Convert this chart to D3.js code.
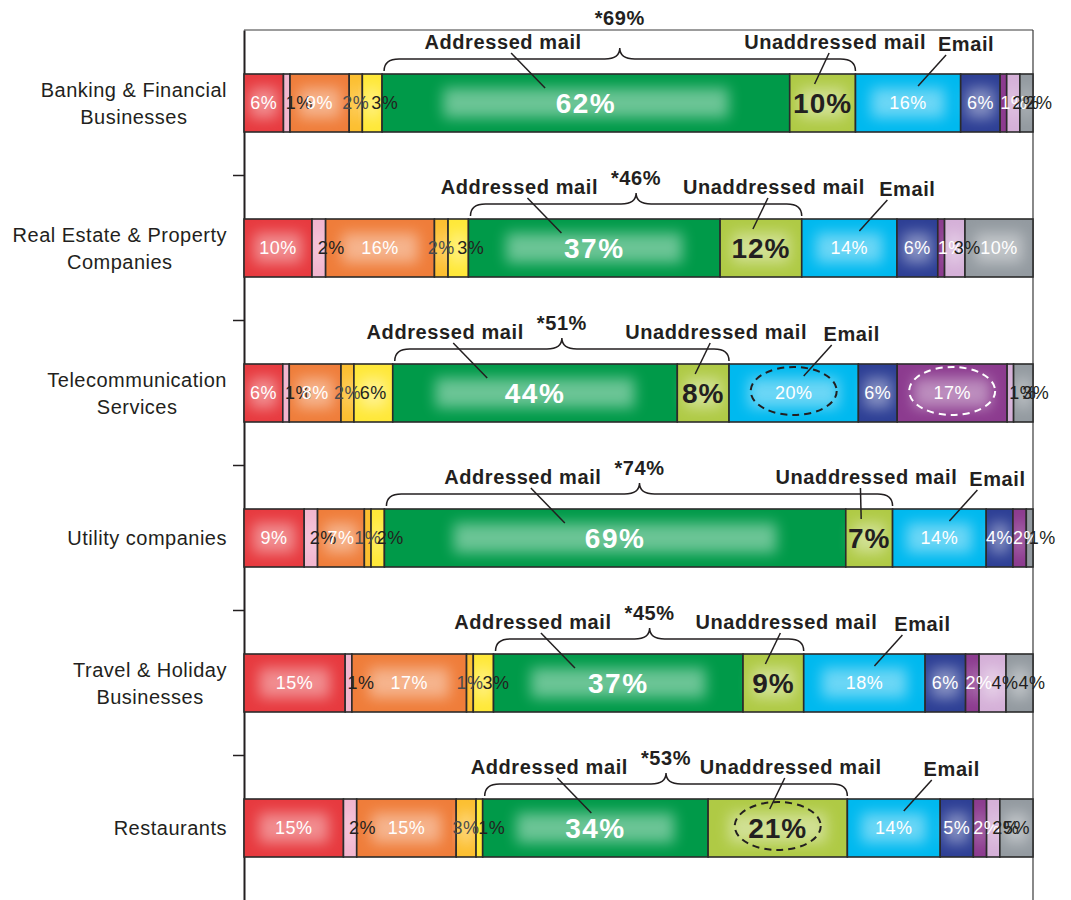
<!DOCTYPE html>
<html>
<head>
<meta charset="utf-8">
<script src="https://cdn.jsdelivr.net/npm/d3@7"></script>
<style>
  body { margin: 0; background: #fff; }
  svg { display: block; font-family: "Liberation Sans", Arial, Helvetica, sans-serif; }
</style>
</head>
<body>
<div id="container"></div>
<script>
// rows, top to bottom
var categories = [
  "Banking & Financial\nBusinesses",
  "Real Estate & Property\nCompanies",
  "Telecommunication\nServices",
  "Utility companies",
  "Travel & Holiday\nBusinesses",
  "Restaurants"
];

var seriesNames = ["Red", "Pink", "Orange", "Gold", "Yellow", "Addressed mail",
                   "Unaddressed mail", "Email", "Navy", "Purple", "Lilac", "Grey"];

// values (%) per series, one entry per row
var red         = [6, 10, 6, 9, 15, 15];
var pink        = [1, 2, 1, 2, 1, 2];
var orange      = [9, 16, 8, 7, 17, 15];
var gold        = [2, 2, 2, 1, 1, 3];
var yellow      = [3, 3, 6, 2, 3, 1];
var addressed   = [62, 37, 44, 69, 37, 34];
var unaddressed = [10, 12, 8, 7, 9, 21];
var email       = [16, 14, 20, 14, 18, 14];
var navy        = [6, 6, 6, 4, 6, 5];
var purple      = [1, 1, 17, 2, 2, 2];
var lilac       = [2, 3, 1, 0, 4, 2];
var grey        = [2, 10, 3, 1, 4, 5];

// "*xx%" above the mail brace
var starTotals = [69, 46, 51, 74, 45, 53];

// cells circled with a dashed ellipse: [row, series, dark?]
var circled = [[2, "Email", true], [2, "Purple", false], [5, "Unaddressed mail", true]];

var seriesValues = [red, pink, orange, gold, yellow, addressed, unaddressed, email, navy, purple, lilac, grey];
var colors = ["#e73a3f", "#f2b6cf", "#ef7d3a", "#fcbf30", "#ffe838", "#009a49",
              "#afca45", "#00b9ef", "#2d3f95", "#8c3b8f", "#d5b0d8", "#939aa0"];
var dark = "#231f20";

var margin = {top: 30, right: 38, bottom: 0, left: 244},
    totalWidth = 1071,
    totalHeight = 900,
    width = totalWidth - margin.left - margin.right,
    height = totalHeight - margin.top - margin.bottom;

var rows = categories.map(function(c, i) {
  var r = {category: c};
  seriesNames.forEach(function(s, j) { r[s] = seriesValues[j][i]; });
  return r;
});

var stacked = d3.stack().keys(seriesNames).offset(d3.stackOffsetExpand)(rows);

var xScale = d3.scaleLinear().domain([0, 1]).range([0, width]);
var yScale = d3.scaleBand().domain(categories).range([0, height]).padding(0);
var barOffset = 44, barHeight = 58;

var svg = d3.select("#container").append("svg")
    .attr("width", totalWidth)
    .attr("height", totalHeight);

var defs = svg.append("defs");
defs.append("filter").attr("id", "glow")
    .attr("x", "-50%").attr("y", "-50%").attr("width", "200%").attr("height", "200%")
  .append("feGaussianBlur").attr("stdDeviation", 7);

var g = svg.append("g")
    .attr("transform", "translate(" + margin.left + "," + margin.top + ")");

// frame: top and right edges
g.append("line").attr("x1", 0).attr("x2", width).attr("y1", 0).attr("y2", 0)
    .attr("stroke", "#3a3a3a").attr("stroke-width", 1.2);
g.append("line").attr("x1", width).attr("x2", width).attr("y1", 0).attr("y2", height)
    .attr("stroke", "#3a3a3a").attr("stroke-width", 1.2);

// left axis, ticks between rows
var yLin = d3.scaleLinear().domain([0, categories.length]).range([0, height]);
var yAxis = d3.axisLeft(yLin)
    .tickValues(d3.range(1, categories.length))
    .tickFormat("")
    .tickSize(11)
    .tickSizeOuter(0);
var axisG = g.append("g").attr("class", "y-axis").call(yAxis);
axisG.select(".domain").attr("stroke", "#231f20").attr("stroke-width", 2);
axisG.selectAll(".tick line").attr("stroke", "#231f20").attr("stroke-width", 1.5);

// category labels
categories.forEach(function(c) {
  var lines = c.split("\n");
  var cy = yScale(c) + barOffset + barHeight / 2;
  var t = g.append("text")
      .attr("font-size", 20)
      .attr("letter-spacing", 0.5)
      .attr("fill", dark)
      .attr("text-anchor", "middle");
  lines.forEach(function(l, k) {
    t.append("tspan")
        .attr("x", 0)
        .attr("y", cy + (k - (lines.length - 1) / 2) * 27)
        .attr("dy", "0.35em")
        .text(l);
  });
  var w = d3.max(t.selectAll("tspan").nodes(), function(n) { return n.getComputedTextLength(); });
  t.selectAll("tspan").attr("x", -17 - w / 2);
});

// bars
var layers = g.append("g").attr("class", "bars")
  .selectAll(".layer")
  .data(stacked).enter()
  .append("g").attr("class", "layer");

layers.each(function(layer, j) {
  var sel = d3.select(this);
  var segs = sel.selectAll("g.seg")
      .data(layer.filter(function(d) { return d[1] - d[0] > 0; }))
      .enter().append("g").attr("class", "seg");
  segs.append("rect")
      .attr("x", function(d) { return xScale(d[0]); })
      .attr("y", function(d) { return yScale(d.data.category) + barOffset; })
      .attr("width", function(d) { return xScale(d[1]) - xScale(d[0]); })
      .attr("height", barHeight)
      .attr("fill", colors[j]);
  segs.each(function(d) {
    var w = xScale(d[1]) - xScale(d[0]);
    var dx = Math.max(3, Math.min(w * 0.15, 80));
    if (w - 2 * dx < 3) return;
    d3.select(this).append("rect")
        .attr("x", xScale(d[0]) + dx)
        .attr("y", yScale(d.data.category) + barOffset + 14)
        .attr("width", w - 2 * dx)
        .attr("height", barHeight - 28)
        .attr("fill", "#fff")
        .attr("opacity", 0.42)
        .attr("filter", "url(#glow)");
  });
  segs.append("rect")
      .attr("x", function(d) { return xScale(d[0]); })
      .attr("y", function(d) { return yScale(d.data.category) + barOffset; })
      .attr("width", function(d) { return xScale(d[1]) - xScale(d[0]); })
      .attr("height", barHeight)
      .attr("fill", "none")
      .attr("stroke", "#2b2b2b")
      .attr("stroke-width", 1.6);
});

// dashed ellipses
circled.forEach(function(cc) {
  var j = seriesNames.indexOf(cc[1]);
  var d = stacked[j][cc[0]];
  g.append("ellipse")
      .attr("cx", (xScale(d[0]) + xScale(d[1])) / 2)
      .attr("cy", yScale(d.data.category) + barOffset + barHeight / 2 - 2)
      .attr("rx", 43).attr("ry", 24)
      .attr("fill", "none")
      .attr("stroke", cc[2] ? dark : "#fff")
      .attr("stroke-width", 2)
      .attr("stroke-dasharray", "7,5");
});

// segment value labels
var labelFill = ["#fff", dark, "#fff", "#4d4d4d", dark, "#fff", dark, "#fff", "#fff", "#fff", dark, null];
// how a label sits when it is wider than its segment
var narrowAnchor = {"Pink": "center", "Yellow": "center", "Lilac": "center", "Grey": "center", "Purple": "x0"};
stacked.forEach(function(layer, j) {
  var big = (j === 5 || j === 6);
  var texts = g.append("g").selectAll("text")
    .data(layer.filter(function(d) { return d[1] - d[0] > 0; }))
    .enter().append("text")
      .attr("x", function(d) { return (xScale(d[0]) + xScale(d[1])) / 2; })
      .attr("y", function(d) { return yScale(d.data.category) + barOffset + barHeight / 2; })
      .attr("dy", "0.36em")
      .attr("text-anchor", "middle")
      .attr("font-size", big ? 28 : 18)
      .attr("font-weight", big ? "bold" : "normal")
      .attr("letter-spacing", j === 5 ? 1.5 : (big ? 1 : 0.5))
      .attr("fill", function(d) {
        if (labelFill[j]) return labelFill[j];
        return d.data[layer.key] >= 10 ? "#fff" : dark;
      })
      .text(function(d) { return d.data[layer.key] + "%"; });
  var mode = narrowAnchor[layer.key];
  if (mode) {
    texts.each(function(d) {
      var w = xScale(d[1]) - xScale(d[0]);
      if (this.getComputedTextLength() <= w - 4) return;
      d3.select(this).attr("text-anchor", "start")
          .attr("x", mode === "x0" ? xScale(d[0]) : (xScale(d[0]) + xScale(d[1])) / 2 - 1);
    });
  }
});

// annotations: brace over addressed + unaddressed mail, labels and leader lines
var annot = g.append("g").attr("class", "annotations")
    .attr("fill", "none").attr("stroke", dark).attr("stroke-width", 1.5);
var iA = seriesNames.indexOf("Addressed mail"),
    iU = seriesNames.indexOf("Unaddressed mail"),
    iE = seriesNames.indexOf("Email");

function addLabel(txt, x, y, anchor) {
  return g.append("text")
      .attr("x", x).attr("y", y)
      .attr("text-anchor", anchor)
      .attr("font-size", 20)
      .attr("font-weight", "bold")
      .attr("letter-spacing", 0.6)
      .attr("fill", dark)
      .text(txt);
}

categories.forEach(function(c, i) {
  var top = yScale(c) + barOffset;
  var a = stacked[iA][i], u = stacked[iU][i], e = stacked[iE][i];
  var x0 = xScale(a[0]) + 2, x1 = xScale(u[1]);
  var xc = (x0 + x1) / 2;
  var yb = top - 3, ym = top - 15, ya = top - 26, r = 15;

  annot.append("path")
      .attr("d", "M" + x0 + "," + yb +
                 " Q" + x0 + "," + ym + " " + (x0 + r) + "," + ym +
                 " L" + (xc - r) + "," + ym +
                 " Q" + xc + "," + ym + " " + xc + "," + ya +
                 " Q" + xc + "," + ym + " " + (xc + r) + "," + ym +
                 " L" + (x1 - r) + "," + ym +
                 " Q" + x1 + "," + ym + " " + x1 + "," + yb);

  var sy = top - 34;
  if (sy - 15 < 0) sy = -5;
  addLabel("*" + starTotals[i] + "%", xc, sy, "middle");

  var ly = top - 25;
  var ta = addLabel("Addressed mail", xc - 38, ly, "end");
  var bA = ta.node().getBBox();
  var cA = bA.x + bA.width / 2;
  annot.append("line").attr("x1", cA + 8).attr("y1", ly + 4)
      .attr("x2", cA + 42).attr("y2", top + 14);

  var uc = (xScale(u[0]) + xScale(u[1])) / 2;
  var ec = (xScale(e[0]) + xScale(e[1])) / 2;
  var tu = addLabel("Unaddressed mail", 0, ly, "middle");
  var halfU = tu.node().getComputedTextLength() / 2;
  var ulx = Math.min(uc + 13, ec + 30 - 12 - halfU);
  tu.attr("x", ulx);
  annot.append("line").attr("x1", ulx - 6).attr("y1", ly + 4)
      .attr("x2", uc - 8).attr("y2", top + 10);

  addLabel("Email", ec + 58, ly + 2, "middle");
  annot.append("line").attr("x1", ec + 38).attr("y1", ly + 6)
      .attr("x2", ec + 10).attr("y2", top + 12);
});
</script>
</body>
</html>
